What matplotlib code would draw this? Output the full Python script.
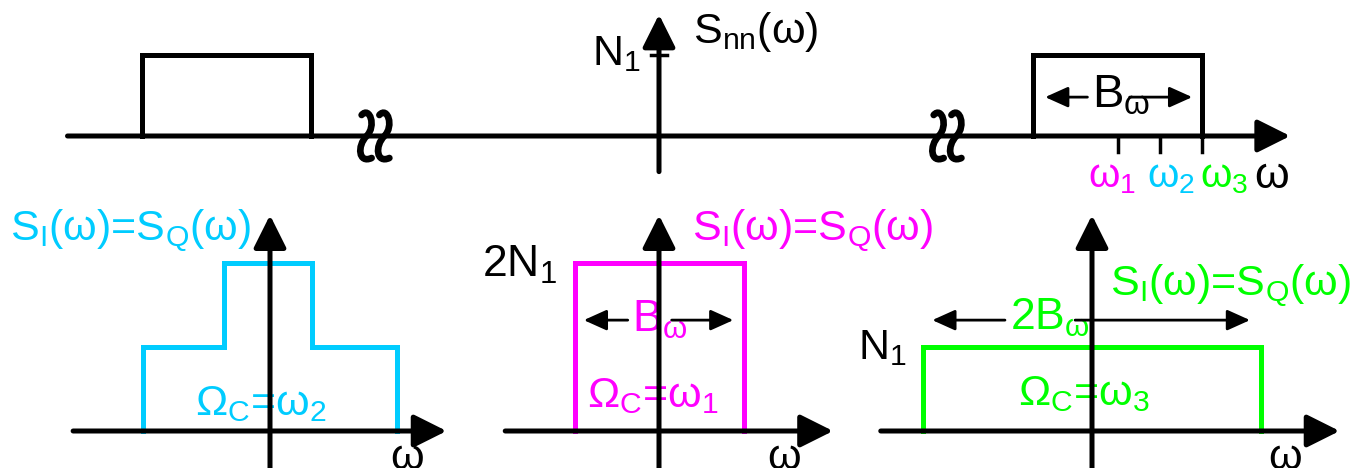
import matplotlib.pyplot as plt
from matplotlib.path import Path
from matplotlib.patches import PathPatch

plt.rcParams['font.family'] = ['Liberation Sans', 'DejaVu Sans']
plt.rcParams['mathtext.fontset'] = 'custom'
plt.rcParams['mathtext.rm'] = 'Liberation Sans'
plt.rcParams['mathtext.it'] = 'Liberation Sans'

CYAN = '#00ccff'
MAGENTA = '#ff00ff'
GREEN = '#00ff00'

# Bandpass noise spectrum S_nn (frequency units with B = 2, level in N1)
N1 = 1.0
B = 2.0
w1 = 5.43
w2 = w1 + B / 4
w3 = w1 + B / 2
pos_band = [w1 - B / 2, w1 + B / 2]
neg_band = [-6.12, -4.12]
band_level = [N1]
axis_breaks = [-3.36, 3.41]

# Baseband spectra S_I = S_Q for the three carrier choices
stair_edges = [-1.5, -0.55, 0.5, 1.5]      # Omega_C = w2
stair_levels = [N1, 2 * N1, N1]
mid_edges = [-1.0, 1.0]                     # Omega_C = w1
mid_levels = [2 * N1]
wide_edges = [-2.0, 2.0]                    # Omega_C = w3
wide_levels = [N1]

W, H = 1369, 468
LW = 3.6
SX, SY_TOP, SY_BOT = 84.5, 81, 84


def panel(fig, x0, y0, x1, y1, cx, base, sx, sy):
    ax = fig.add_axes([x0 / W, 1 - y1 / H, (x1 - x0) / W, (y1 - y0) / H])
    ax.set_xlim((x0 - cx) / sx, (x1 - cx) / sx)
    ax.set_ylim((base - y1) / sy, (base - y0) / sy)
    ax.axis('off')
    return ax


def outline(edges, levels):
    xs, ys = [edges[0]], [0]
    for i, lev in enumerate(levels):
        xs += [edges[i], edges[i + 1]]
        ys += [lev, lev]
    xs.append(edges[-1])
    ys.append(0)
    return xs, ys


def arrow(ax, start, end, lw=LW, scale=20, hl=1.0, hw=0.5, color='k', z=4):
    ax.annotate('', xy=end, xytext=start,
                arrowprops=dict(arrowstyle=f'-|>,head_length={hl},head_width={hw}',
                                mutation_scale=scale, lw=lw, color=color,
                                shrinkA=0, shrinkB=0),
                zorder=z, annotation_clip=False)


def draw_spectrum(ax, edges, levels, color):
    xs, ys = outline(edges, levels)
    ax.plot(xs, ys, color=color, lw=LW, solid_joinstyle='miter', zorder=2)


def squiggle(ax, x, y):
    # one wavy stroke of an axis break mark, shape given in pixels
    pts = [(-5, -21), (3, -30), (10, -10), (0, 0),
           (-10, 10), (-8, 28), (5, 22)]
    verts = [(x + dx / SX, y - dy / SY_TOP) for dx, dy in pts]
    codes = [Path.MOVETO] + [Path.CURVE4] * 6
    ax.add_patch(PathPatch(Path(verts, codes), fill=False, lw=4.8,
                           capstyle='round', color='k', zorder=5))


fig = plt.figure(figsize=(W / 100, H / 100), dpi=100)

# ---- top: bandpass spectrum ----
top = panel(fig, 0, 0, W, 200, 659, 136, SX, SY_TOP)
for band in (neg_band, pos_band):
    xs, ys = outline(band, band_level)
    top.plot(xs, ys, color='k', lw=LW, solid_joinstyle='miter', zorder=2)
arrow(top, (-7.0, 0), (7.47, 0))
arrow(top, (0, -0.44), (0, 1.5))
top.plot([-0.1, 0.1], [N1, N1], color='k', lw=2.5, zorder=4)
for w in (w1, w2, w3):
    top.plot([w, w], [0, -0.2], color='k', lw=2.5, zorder=4)
for u in axis_breaks:
    squiggle(top, u - 0.1, 0.0)
    squiggle(top, u + 0.11, 0.0)
top.text(-0.22, 0.88, r'N$_1$', fontsize=31, ha='right', va='baseline')
top.text(0.40, 1.15, r'S$_{\mathrm{nn}}$(ω)', fontsize=31, ha='left', va='baseline')
top.text(5.12, 0.35, r'B$_{ω}$', fontsize=34, ha='left', va='baseline')
arrow(top, (5.07, 0.48), (4.57, 0.48), lw=2.0, scale=14, hl=1.0, hw=0.45)
arrow(top, (5.57, 0.48), (6.31, 0.48), lw=2.0, scale=14, hl=1.0, hw=0.45)
for u, lab, c, fs in ((5.08, r'ω$_1$', MAGENTA, 29), (5.78, r'ω$_2$', CYAN, 29),
                      (6.40, r'ω$_3$', GREEN, 29), (7.05, 'ω', 'k', 32)):
    top.text(u, -0.64, lab, fontsize=fs, color=c, ha='left', va='baseline')

title = r'S$_\mathrm{I}$(ω)=S$_\mathrm{Q}$(ω)'

# ---- bottom left: Omega_C = w2 ----
p1 = panel(fig, 0, 200, 460, H, 270, 431, SX, SY_BOT)
draw_spectrum(p1, stair_edges, stair_levels, CYAN)
arrow(p1, (-2.33, 0), (2.09, 0))
arrow(p1, (0, -0.5), (0, 2.57))
p1.text(-3.08, 2.27, title, fontsize=31, color=CYAN, ha='left', va='baseline')
p1.text(-0.89, 0.19, r'Ω$_\mathrm{C}$=ω$_2$', fontsize=31, color=CYAN, ha='left', va='baseline')
p1.text(1.42, -0.45, 'ω', fontsize=31, ha='left', va='baseline')

# ---- bottom middle: Omega_C = w1 ----
p2 = panel(fig, 460, 200, 870, H, 659, 431, SX, SY_BOT)
draw_spectrum(p2, mid_edges, mid_levels, MAGENTA)
arrow(p2, (-1.82, 0), (2.06, 0))
arrow(p2, (0, -0.5), (0, 2.57))
p2.text(0.39, 2.27, title, fontsize=31, color=MAGENTA, ha='left', va='baseline')
p2.text(-2.09, 1.83, r'2N$_1$', fontsize=32, ha='left', va='baseline')
p2.text(-0.32, 1.18, r'B$_ω$', fontsize=32, color=MAGENTA, ha='left', va='baseline', zorder=1)
arrow(p2, (-0.37, 1.32), (-0.89, 1.32), lw=2.0, scale=14, hl=1.0, hw=0.45)
arrow(p2, (0.15, 1.32), (0.88, 1.32), lw=2.0, scale=14, hl=1.0, hw=0.45)
p2.text(-0.85, 0.29, r'Ω$_\mathrm{C}$=ω$_1$', fontsize=31, color=MAGENTA, ha='left', va='baseline')
p2.text(1.28, -0.45, 'ω', fontsize=31, ha='left', va='baseline')

# ---- bottom right: Omega_C = w3 ----
p3 = panel(fig, 870, 200, W, H, 1092, 431, SX, SY_BOT)
draw_spectrum(p3, wide_edges, wide_levels, GREEN)
arrow(p3, (-2.50, 0), (2.93, 0))
arrow(p3, (0, -0.5), (0, 2.57))
p3.text(0.21, 1.62, title, fontsize=31, color=GREEN, ha='left', va='baseline')
p3.text(-2.77, 0.85, r'N$_1$', fontsize=31, ha='left', va='baseline')
p3.text(-0.97, 1.20, r'2B$_ω$', fontsize=32, color=GREEN, ha='left', va='baseline', zorder=1)
arrow(p3, (-1.03, 1.32), (-1.89, 1.32), lw=2.0, scale=14, hl=1.0, hw=0.45)
arrow(p3, (-0.20, 1.32), (1.87, 1.32), lw=2.0, scale=14, hl=1.0, hw=0.45)
p3.text(-0.88, 0.31, r'Ω$_\mathrm{C}$=ω$_3$', fontsize=31, color=GREEN, ha='left', va='baseline')
p3.text(2.08, -0.45, 'ω', fontsize=31, ha='left', va='baseline')

fig.savefig('out.png', dpi=100, facecolor='white')
